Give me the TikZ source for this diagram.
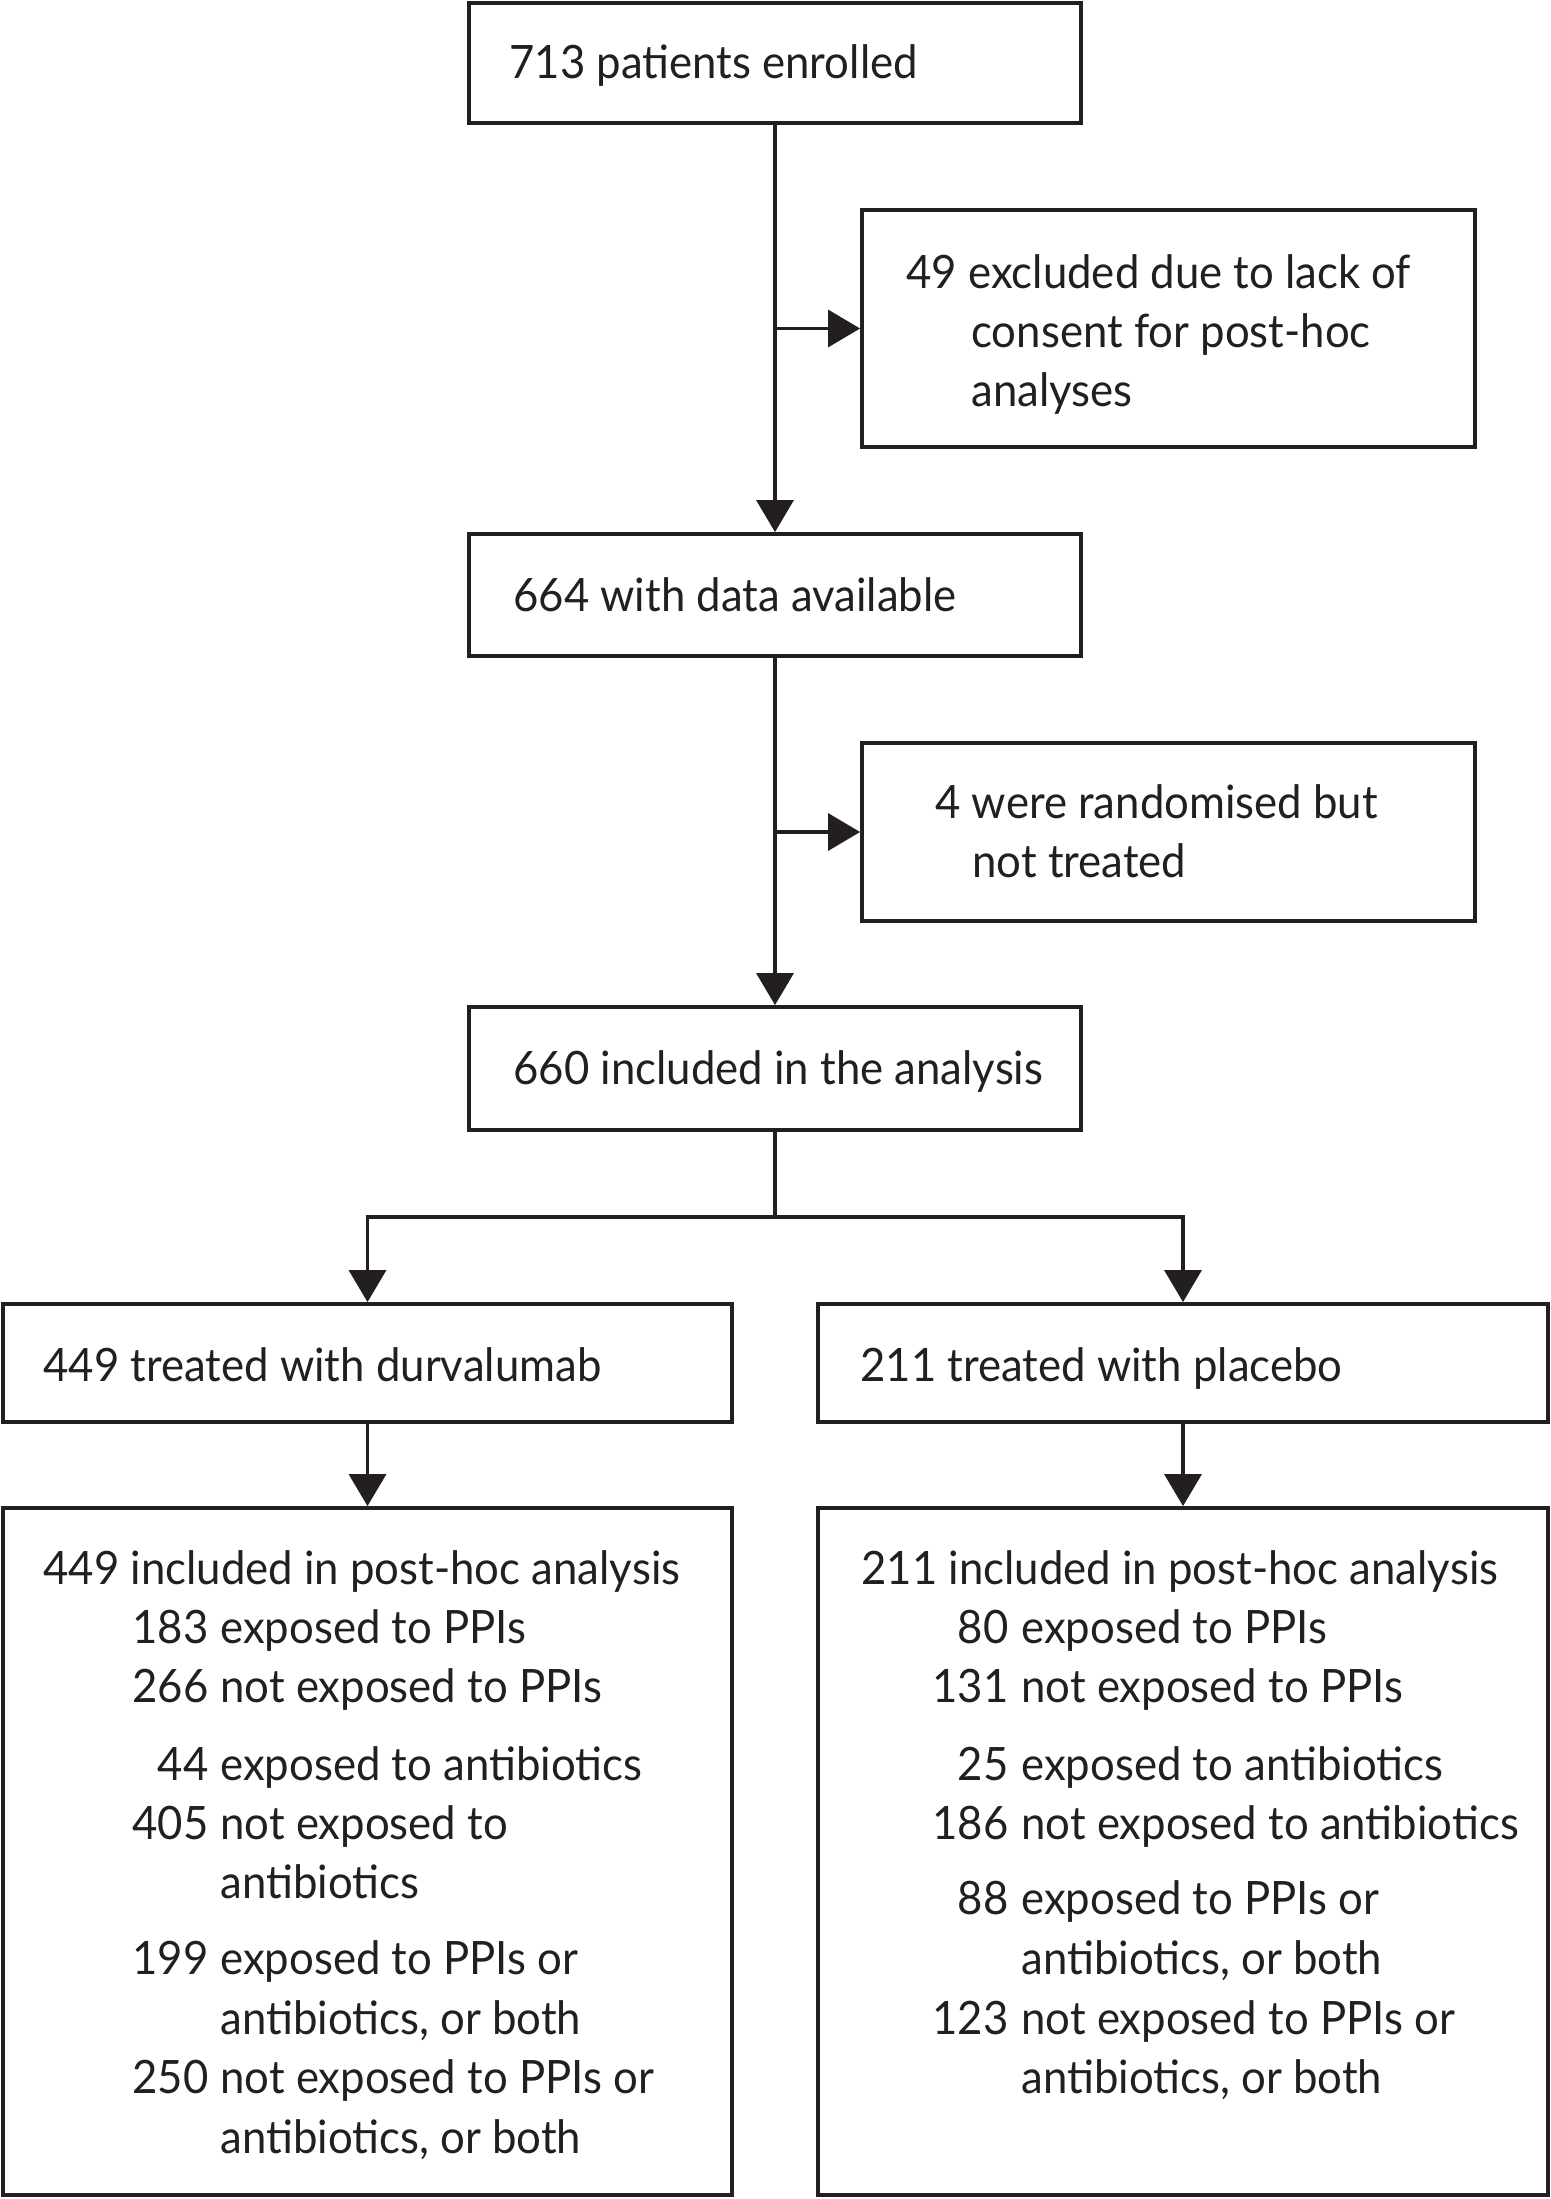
\documentclass[tikz,border=0pt]{standalone}
\usepackage{fontspec}
\setmainfont{Lato}[FakeStretch=0.95]
\usetikzlibrary{arrows.meta}
\definecolor{ink}{RGB}{35,31,32}
\newcommand\entry[6]{%
  \node[txt,anchor=base east] (#1n) at (#2,#4) {#5};
  \node[txt,anchor=base west] (#1t) at (#3,#4) {#6};}
\begin{document}
\begin{tikzpicture}[x=0.5pt,y=-0.5pt,
  bx/.style={draw=ink, line width=1.9pt, inner sep=0pt},
  txt/.style={inner sep=0pt, text=ink, font=\fontsize{23pt}{29.5pt}\selectfont},
  conn/.style={draw=ink, line width=1.7pt},
  arr/.style={conn, -{Triangle[length=16pt,width=18.5pt]}}]
\useasboundingbox (0,0) rectangle (1551,2199);
\fill[white] (0,0) rectangle (1551,2199);

% boxes
\node[bx, minimum width=306pt, minimum height=60pt] (b1) at (775,63) {};
\node[bx, minimum width=306.5pt, minimum height=118.5pt] (b2) at (1168.5,328.5) {};
\node[bx, minimum width=306pt, minimum height=61pt] (b3) at (775,595) {};
\node[bx, minimum width=306.5pt, minimum height=89pt] (b4) at (1168.5,832) {};
\node[bx, minimum width=306pt, minimum height=61.5pt] (b5) at (775,1068.5) {};
\node[bx, minimum width=364.5pt, minimum height=59pt] (b6) at (367.5,1363) {};
\node[bx, minimum width=365pt, minimum height=59pt] (b7) at (1183,1363) {};
\node[bx, minimum width=364.5pt, minimum height=343.5pt] (b8) at (367.5,1851.5) {};
\node[bx, minimum width=365pt, minimum height=343.5pt] (b9) at (1183,1851.5) {};

% texts
\node[txt,anchor=base west] (t1) at (509,79) {713 patients enrolled};
\node[txt,anchor=base west] (t2a) at (906,288) {49 excluded due to lack of};
\node[txt,anchor=base west] (t2b) at (971,347) {consent for post-hoc};
\node[txt,anchor=base west] (t2c) at (971,406) {analyses};
\node[txt,anchor=base west] (t3) at (513,611) {664 with data available};
\node[txt,anchor=base west] (t4a) at (935,818) {4 were randomised but};
\node[txt,anchor=base west] (t4b) at (972,877) {not treated};
\node[txt,anchor=base west] (t5) at (513,1084) {660 included in the analysis};
\node[txt,anchor=base west] (t6) at (43,1381) {449 treated with durvalumab};
\node[txt,anchor=base west] (t7) at (860,1381) {211 treated with placebo};

% left detail box
\node[txt,anchor=base west] (d0) at (43,1584) {449 included in post-hoc analysis};
\entry{d1}{209}{220}{1643}{183}{exposed to PPIs}
\entry{d2}{209}{220}{1702}{266}{not exposed to PPIs}
\entry{d3}{209}{220}{1780}{44}{exposed to antibiotics}
\entry{d4}{209}{220}{1839}{405}{not exposed to}
\node[txt,anchor=base west] (d4b) at (220,1898) {antibiotics};
\entry{d5}{209}{220}{1974}{199}{exposed to PPIs or}
\node[txt,anchor=base west] (d5b) at (220,2034) {antibiotics, or both};
\entry{d6}{209}{220}{2093}{250}{not exposed to PPIs or}
\node[txt,anchor=base west] (d6b) at (220,2153) {antibiotics, or both};

% right detail box
\node[txt,anchor=base west] (p0) at (861,1584) {211 included in post-hoc analysis};
\entry{p1}{1009}{1021}{1643}{80}{exposed to PPIs}
\entry{p2}{1009}{1021}{1702}{131}{not exposed to PPIs}
\entry{p3}{1009}{1021}{1780}{25}{exposed to antibiotics}
\entry{p4}{1009}{1021}{1839}{186}{not exposed to antibiotics}
\entry{p5}{1009}{1021}{1914}{88}{exposed to PPIs or}
\node[txt,anchor=base west] (p5b) at (1021,1974) {antibiotics, or both};
\entry{p6}{1009}{1021}{2034}{123}{not exposed to PPIs or}
\node[txt,anchor=base west] (p6b) at (1021,2093) {antibiotics, or both};

% connectors
\draw[arr] (b1) -- (b3);
\draw[arr] (b1.south |- b2.west) -- (b2.west);
\draw[arr] (b3) -- (b5);
\draw[arr] (b3.south |- b4.west) -- (b4.west);
\coordinate (j) at (775,1217);
\draw[conn] (b5.south) -- (j);
\draw[arr] (j) -| (b6.north);
\draw[arr] (j) -| (b7.north);
\draw[arr] (b6) -- (b8);
\draw[arr] (b7) -- (b9);
\end{tikzpicture}
\end{document}
